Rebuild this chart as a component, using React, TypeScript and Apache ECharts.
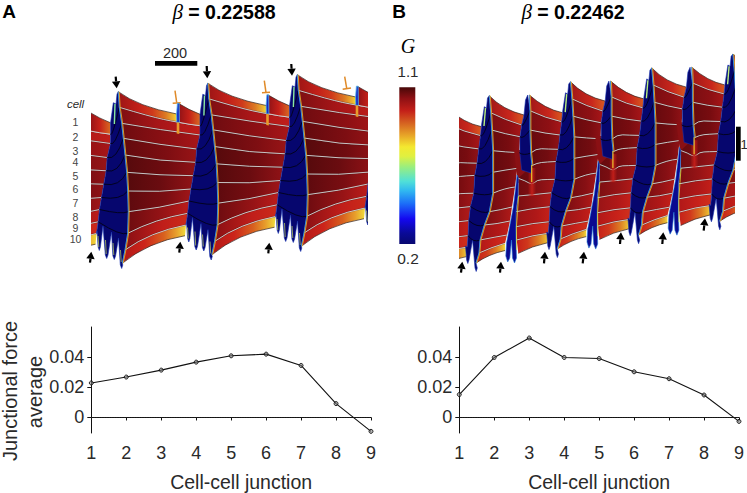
import React, { useEffect, useRef } from "react";
import * as echarts from "echarts";

type Pt = number[];

// ---------- line panels ----------
const junctions = ["1", "2", "3", "4", "5", "6", "7", "8", "9"];
const forceA = [0.0229, 0.0268, 0.0314, 0.0367, 0.0409, 0.042, 0.0345, 0.0092, -0.0092];
const forceB = [0.0152, 0.0398, 0.0527, 0.0398, 0.0391, 0.0303, 0.0257, 0.0149, -0.0026];
const forceTicks = [0, 0.02, 0.04];

// ---------- surface panels in axis units ----------
const originsA: Pt[] = [[-89.5, 8.5], [0, 0], [89.5, -8.5], [179, -17], [268.5, -25.5]];
const originsB: Pt[] = [[-81.2, 13.9], [0, 0], [81.2, -13.9], [162.4, -27.8], [243.6, -41.7]];

const sheetA: Pt[][] = [
  [[118.3, 91.7], [138, 106.5], [176.7, 114]],
  [[119.3, 107.3], [150, 116.5], [176.7, 122.3], [200, 125.7]],
  [[121.7, 123.3], [160, 130], [200, 135]],
  [[123.3, 138.3], [160, 145], [196.7, 149]],
  [[125, 155], [160, 161.5], [195.7, 162.3]],
  [[126.7, 172.3], [160, 175.5], [193.3, 175.7]],
  [[127.7, 191], [160, 192.5], [191, 189]],
  [[128.3, 211.7], [160, 208], [189, 201]],
  [[127.7, 233.3], [155, 219], [187.7, 213.3]],
  [[125, 250], [150, 232], [186, 225]],
  [[122.3, 263.3], [148, 242], [185, 235.7]],
];
const stripUpperA: Pt[] = [[178.3, 103.3], [189, 110], [200, 114.3]];
const stripLowerA: Pt[] = [[178.3, 122.2], [189, 124.5], [200, 125.7]];
const notchBlueA: Pt[] = [[176.6, 114], [177.4, 103.2], [179.2, 103.4], [179.4, 122.4], [176.8, 122.4]];
const notchOrangeA: Pt[] = [[176.7, 122.2], [179.3, 122.6], [179.3, 134], [176.7, 133.6]];
const ridgeFootA: Pt[] = [
  [122.8, 265], [121.7, 268.5], [120.3, 265], [118.5, 238], [115.6, 256], [114.3, 259.5], [112.9, 256], [111.5, 232],
  [108, 255], [106.7, 258.5], [105.3, 255], [103, 226], [100.4, 247], [99.3, 250.5], [98.1, 247], [97, 231],
];
const ridgeShoulderA: Pt[] = [[110.5, 123], [113.3, 102.7], [116, 104], [117, 94]];

const sheet1B: Pt[][] = [
  [[489.3, 95.7], [503, 110], [524, 115]],
  [[490.7, 112.7], [505, 120], [521.7, 125]],
  [[491.7, 130], [505, 134], [520, 136.7]],
  [[492.7, 150.7], [505, 152], [519.3, 152.7]],
  [[492.7, 172.3], [505, 170], [517.3, 168.3]],
  [[492.7, 193.3], [505, 188], [515, 187]],
  [[489.3, 211.7], [500, 210], [512, 207]],
  [[484.3, 225], [497, 224], [510, 221]],
  [[480, 240], [495, 237], [507, 235]],
  [[479, 253], [492, 247], [505, 243.3]],
  [[476, 263], [489, 254], [505, 250.5]],
];
const sheet2B: Pt[][] = [
  [[529.3, 95], [545, 109], [562.3, 112.7]],
  [[530, 110.7], [545, 118], [561.7, 121.7]],
  [[530, 130], [545, 133.5], [560, 135]],
  [[530.7, 153], [536, 148.5], [547, 149], [558.3, 149.3]],
  [[532, 165.5], [537, 163], [546, 162], [556, 161.5]],
  [[518.3, 178.3], [526, 181], [532, 185], [537, 180], [546, 179.5], [555, 179.3]],
  [[518.3, 196], [535, 194.5], [551.7, 192.7]],
  [[516, 211.7], [533, 208], [550, 206.7]],
  [[516, 226.7], [533, 223], [549.3, 221.7]],
  [[516.7, 240], [533, 235], [548.3, 233.3]],
  [[518.3, 253.3], [532, 246], [547.7, 242.7]],
];
const ridgeFootB: Pt[] = [
  [477.3, 268], [476.2, 271.5], [475, 268], [472.6, 240], [469, 260], [467.8, 263.5], [466.6, 260], [465.5, 246],
];
const ridgeShoulderB: Pt[] = [[481.5, 125], [484.3, 106.7], [486.5, 108], [487.5, 98]];
const wedgeB: Pt[] = [
  [527.7, 95], [530, 110.7], [530, 130], [530.7, 153], [531.5, 165], [531, 173], [521.7, 170],
  [520, 154], [520, 137], [521.7, 125], [524, 115], [525.5, 100],
];
const lowerStripB: Pt[] = [
  [517, 175], [518.3, 178], [518, 196], [516, 212], [516, 227], [516, 240], [516.5, 258], [514.5, 263],
  [512.5, 258], [511.5, 240], [509.8, 258], [507.7, 262], [505.8, 256], [506.5, 243], [509, 230], [513.3, 207], [516, 185],
];
const notchBackingB: Pt[] = [[514, 150], [532, 150], [537, 182], [518, 183]];
const notchGlowB: Pt[] = [[528, 168], [536, 168], [536, 196], [528, 196]];

const colorbarStops: [number, string][] = [
  [0, "#080870"], [0.07, "#0a0a98"], [0.16, "#1408f0"], [0.26, "#1c70f8"], [0.34, "#30b8f0"], [0.4, "#50e0d8"],
  [0.49, "#98ee80"], [0.56, "#e0f040"], [0.62, "#f4e830"], [0.69, "#e8a828"], [0.76, "#d86c22"], [0.85, "#c42019"],
  [0.93, "#8e1014"], [1, "#480808"],
];

const bandsA: [number, string][][] = [
  [[0, "#9c1616"], [0.25, "#c22019"], [0.42, "#cf3a1c"], [0.58, "#dc7a24"], [0.68, "#eeb830"], [0.72, "#f2e040"], [1, "#f2e040"]],
  [[0, "#7e0f12"], [0.5, "#a81618"], [1, "#c01e1a"]],
  [[0, "#6e0c10"], [0.6, "#8e1014"], [1, "#a81618"]],
  [[0, "#620a0e"], [0.6, "#7e0e12"], [1, "#981416"]],
  [[0, "#560a0c"], [0.6, "#700c10"], [1, "#901216"]],
  [[0, "#560a0c"], [0.5, "#6a0c10"], [1, "#901216"]],
  [[0, "#5e0a0e"], [0.6, "#7a0e12"], [1, "#a01618"]],
  [[0, "#6e0c10"], [0.6, "#981416"], [1, "#bc1c1a"]],
  [[0, "#8a1014"], [0.6, "#c01e1a"], [1, "#cc2a1a"]],
  [[0, "#b01818"], [0.35, "#cc241a"], [0.65, "#d8601f"], [0.85, "#e8a02c"], [1, "#f0dc3c"]],
];
const stripColorsA: [number, string][] = [[0, "#8e1216"], [0.5, "#c42019"], [1, "#d86a22"]];
const bandsB: [number, string][][] = [
  [[0, "#a01818"], [0.6, "#c8261c"], [1, "#d85a20"]],
  [[0, "#7a0e12"], [0.6, "#8e1014"], [1, "#a81618"]],
  [[0, "#660a0e"], [0.6, "#780c10"], [1, "#901216"]],
  [[0, "#620a0e"], [0.6, "#720c10"], [1, "#8a1014"]],
  [[0, "#660a0e"], [0.6, "#780c10"], [1, "#901216"]],
  [[0, "#700c10"], [0.6, "#881014"], [1, "#a01618"]],
  [[0, "#7a0e12"], [0.6, "#981416"], [1, "#b01a18"]],
  [[0, "#981416"], [0.6, "#b01818"], [1, "#c42019"]],
  [[0, "#b01818"], [0.6, "#c8221a"], [1, "#d0301c"]],
  [[0, "#c42019"], [0.35, "#d0381c"], [0.7, "#dc7c24"], [0.9, "#e8b030"], [1, "#f0dc3c"]],
];

const cellLabels = ["1", "2", "3", "4", "5", "6", "7", "8", "9", "10"];
const cellLabelY = [121.7, 136.7, 150.7, 162, 175.7, 189, 203.3, 216.7, 228, 239.3];

const upArrows: number[][] = [
  [90, 262.7, 91.3, 251.7], [179.3, 252.7, 180.3, 241.7], [268.3, 253.3, 269.3, 242.7],
  [461, 272.7, 462.3, 261.7], [500, 272.7, 501, 261.7], [544, 263.3, 545, 251.7], [582.7, 263.3, 584, 251.7],
  [620, 244, 621, 232.3], [662.3, 244, 663.3, 232.3], [703.7, 230.7, 705, 218.3],
];
const downArrows: number[][] = [
  [115.7, 76.7, 116.7, 88.3], [206.7, 66, 207.3, 78.3], [291.3, 64, 292, 75.7],
];
const tBars: number[][] = [
  [175, 90.7, 176.7, 102.7, 172.7, 103.3, 180.7, 102.7],
  [264.3, 80.7, 266, 92.7, 262, 92.7, 270, 92.3],
  [344.7, 76.7, 346.7, 88.3, 342.7, 89.3, 351, 88],
];

const SANS = '"Liberation Sans", Arial, sans-serif';
const SERIF = '"Liberation Serif", "DejaVu Serif", serif';
const TEXT = "#2a2a2a";
const RIDGE = "#06066e";
const RIDGE_EDGE = "#1430b0";

type Item = { path: (api: any) => string; style: any };

const shift = (pts: Pt[], o: Pt) => pts.map((p) => [p[0] + o[0], p[1] + o[1]]);

const smooth = (pts: Pt[], cmd: string, api: any) => {
  const c = pts.map((p) => api.coord(p));
  let s = `${cmd}${c[0][0]} ${c[0][1]}`;
  if (c.length === 2) return s + `L${c[1][0]} ${c[1][1]}`;
  for (let i = 1; i < c.length - 1; i++) {
    const end = i === c.length - 2 ? c[i + 1] : [(c[i][0] + c[i + 1][0]) / 2, (c[i][1] + c[i + 1][1]) / 2];
    s += `Q${c[i][0]} ${c[i][1]} ${end[0]} ${end[1]}`;
  }
  return s;
};
const straight = (pts: Pt[], close: boolean, api: any) =>
  pts.map((p, i) => {
    const c = api.coord(p);
    return `${i ? "L" : "M"}${c[0]} ${c[1]}`;
  }).join("") + (close ? "Z" : "");

const grad = (stops: [number, string][]) =>
  new echarts.graphic.LinearGradient(0, 0, 1, 0, stops.map(([offset, color]) => ({ offset, color })));

const polyItem = (pts: Pt[], style: any): Item => ({ path: (api) => straight(pts, true, api), style });
const lineItem = (pts: Pt[], style: any): Item => ({ path: (api) => smooth(pts, "M", api), style: { fill: "none", ...style } });
const rawLine = (pts: Pt[], style: any): Item => ({ path: (api) => straight(pts, false, api), style: { fill: "none", ...style } });

const addSheet = (out: Item[], lines: Pt[][], colors: [number, string][][]) => {
  for (let b = 0; b < 10; b++) {
    const upper = lines[b];
    const lower = lines[b + 1];
    out.push({
      path: (api) => smooth(upper, "M", api) + smooth([...lower].reverse(), "L", api) + "Z",
      style: { fill: grad(colors[b]) },
    });
  }
  lines.forEach((l, i) => {
    if (i === 0 || i === 10) out.push(lineItem(l, { stroke: "#30201c", lineWidth: 0.7 }));
    else {
      out.push(lineItem(l, { stroke: "#3a1a1a", lineWidth: 1.7, opacity: 0.45 }));
      out.push(lineItem(l, { stroke: "#d4d4d4", lineWidth: 0.9 }));
    }
  });
};

const addEdge = (out: Item[], pts: Pt[]) => {
  out.push(rawLine(pts, { stroke: "#2f8fe0", lineWidth: 1 }));
  out.push(rawLine(shift(pts, [0.9, 0]), { stroke: "#e0a82c", lineWidth: 0.9 }));
};

const addBlackLines = (out: Item[], rights: Pt[], lefts: Pt[], from: number, to: number) => {
  for (let i = from; i <= to; i++) {
    const r = rights[i];
    const l = lefts[i];
    out.push(lineItem([l, [r[0] - 7, Math.max(l[1], r[1]) + 3], r], { stroke: "#020220", lineWidth: 1 }));
  }
};

const first = (lines: Pt[][]) => lines.map((l) => l[0]);
const last = (lines: Pt[][]) => lines.map((l) => l[l.length - 1]);

function buildA(): Item[] {
  const out: Item[] = [];
  const prevO = originsA[0];
  originsA.forEach((o) => {
    const L = shift(first(sheetA), o);
    const R = shift(shift(last(sheetA), prevO), o);
    const outline = [
      ...L,
      ...shift(ridgeFootA, o),
      ...R.slice(1, 10).reverse(),
      ...shift(ridgeShoulderA, o),
    ];
    out.push(polyItem(outline, { fill: RIDGE, stroke: RIDGE_EDGE, lineWidth: 0.6 }));
    addBlackLines(out, L, R, 1, 8);
    addSheet(out, sheetA.map((l) => shift(l, o)), bandsA);
    const up = shift(stripUpperA, o);
    const low = shift(stripLowerA, o);
    out.push({
      path: (api) => smooth(up, "M", api) + smooth([...low].reverse(), "L", api) + "Z",
      style: { fill: grad(stripColorsA) },
    });
    out.push(lineItem(up, { stroke: "#30201c", lineWidth: 0.7 }));
    out.push(lineItem(low, { stroke: "#d4d4d4", lineWidth: 0.9 }));
    out.push(polyItem(shift(notchBlueA, o), { fill: "#1428c8", stroke: "#4ab4e8", lineWidth: 0.8 }));
    out.push(polyItem(shift(notchOrangeA, o), { fill: "#e89a2a" }));
    addEdge(out, L);
    out.push(rawLine(shift([[115, 104], [114.4, 124]], o), { stroke: "#8ae8a0", lineWidth: 1.4 }));
    [[121.2, 262, 120.5, 250], [113.8, 255, 113, 243], [106.2, 254, 105.5, 240], [98.8, 247, 98, 236]].forEach((f) =>
      out.push(rawLine(shift([[f[0], f[1]], [f[2], f[3]]], o), { stroke: "#c8e060", lineWidth: 0.7 })),
    );
  });
  return out;
}

function buildB(): Item[] {
  const out: Item[] = [];
  const prevO = originsB[0];
  originsB.forEach((o) => {
    const L = shift(first(sheet1B), o);
    const R = shift(shift(last(sheet2B), prevO), o);
    const outline = [
      ...L,
      ...shift(ridgeFootB, o),
      ...R.slice(1, 10).reverse(),
      ...shift(ridgeShoulderB, o),
    ];
    out.push(polyItem(outline, { fill: RIDGE, stroke: RIDGE_EDGE, lineWidth: 0.6 }));
    addBlackLines(out, L, R, 1, 8);
    addSheet(out, sheet1B.map((l) => shift(l, o)), bandsB);
    addEdge(out, L);
    out.push(rawLine(shift([[485.5, 108], [484, 126]], o), { stroke: "#b8f080", lineWidth: 1.4 }));
    out.push(polyItem(shift(notchBackingB, o), { fill: "#8a1014" }));
    addSheet(out, sheet2B.map((l) => shift(l, o)), bandsB);
    out.push({
      path: (api) => straight(shift(notchGlowB, o), true, api),
      style: {
        fill: new echarts.graphic.LinearGradient(0, 0, 1, 0, [
          { offset: 0, color: "rgba(200,32,26,0)" },
          { offset: 0.5, color: "rgba(200,32,26,0.9)" },
          { offset: 1, color: "rgba(200,32,26,0)" },
        ]),
      },
    });
    out.push(polyItem(shift(wedgeB, o), { fill: RIDGE, stroke: RIDGE_EDGE, lineWidth: 0.6 }));
    addBlackLines(out, shift(first(sheet2B).slice(0, 4), o), shift(last(sheet1B).slice(0, 4), o), 1, 3);
    addEdge(out, shift(first(sheet2B).slice(0, 5), o));
    out.push(rawLine(shift([[531.7, 165], [531.7, 182]], o), { stroke: "#e8d030", lineWidth: 1.1 }));
    out.push(polyItem(shift(lowerStripB, o), { fill: "#0a0a90", stroke: "#2478d8", lineWidth: 0.6 }));
    out.push(rawLine(shift([[518.6, 196], [516.4, 227], [516.6, 250]], o), { stroke: "#d8e040", lineWidth: 0.8 }));
  });
  return out;
}

const arrowGraphic = (a: number[]) => {
  const [x0, y0, x1, y1] = a;
  const len = Math.hypot(x1 - x0, y1 - y0);
  const ux = (x1 - x0) / len;
  const uy = (y1 - y0) / len;
  const bx = x1 - ux * 7;
  const by = y1 - uy * 7;
  return [
    { type: "line", shape: { x1: x0, y1: y0, x2: bx, y2: by }, style: { stroke: "#000", lineWidth: 2.2 } },
    {
      type: "polygon",
      shape: { points: [[x1, y1], [bx - uy * 4.2, by + ux * 4.2], [bx + uy * 4.2, by - ux * 4.2]] },
      style: { fill: "#000" },
    },
  ];
};

const txt = (text: string, x: number, y: number, fontSize: number, extra: any = {}) => ({
  type: "text",
  x,
  y,
  style: { text, fontSize, fontFamily: SANS, fill: TEXT, align: "center", verticalAlign: "middle", ...extra },
});

const title = (x: number, value: string) => ({
  type: "text",
  x,
  y: 12,
  style: {
    text: `{b|β}{n| = ${value}}`,
    align: "center",
    verticalAlign: "middle",
    rich: {
      b: { fontFamily: SERIF, fontStyle: "italic", fontSize: 21, fill: "#000" },
      n: { fontFamily: SANS, fontWeight: "bold", fontSize: 19.5, fill: "#000" },
    },
  },
});

const lineSeries = (data: number[], idx: number) => ({
  type: "line",
  xAxisIndex: idx,
  yAxisIndex: idx,
  data,
  symbol: "circle",
  symbolSize: 4,
  lineStyle: { color: "#111", width: 1.1 },
  itemStyle: { color: "rgba(130,130,130,0.55)", borderColor: "#111", borderWidth: 0.9 },
  markLine: {
    silent: true,
    symbol: "none",
    label: { show: false },
    lineStyle: { color: "#222", type: [1, 1.5], width: 1 },
    data: [{ yAxis: 0 }],
  },
  z: 3,
});

export default function App() {
  const ref = useRef<HTMLDivElement>(null);
  useEffect(() => {
    const chart = echarts.init(ref.current!, undefined, { renderer: "svg" });
    const itemsA = buildA();
    const itemsB = buildB();

    const hiddenX = (min: number, max: number, gridIndex: number) => ({ type: "value", gridIndex, min, max, show: false });
    const hiddenY = (min: number, max: number, gridIndex: number) => ({ type: "value", gridIndex, min, max, inverse: true, show: false });

    const catAxis = (gridIndex: number, pad: number) => ({
      type: "category",
      gridIndex,
      data: junctions,
      boundaryGap: false,
      axisLine: { lineStyle: { color: "#111", width: 1 } },
      axisTick: { length: 3, lineStyle: { color: "#111" }, alignWithLabel: true },
      axisLabel: { color: TEXT, fontFamily: SANS, fontSize: 18, margin: 11, interval: 0 },
      name: "Cell-cell junction",
      nameLocation: "middle",
      nameGap: 39,
      nameTextStyle: { color: TEXT, fontFamily: SANS, fontSize: 19.5, padding: [0, 0, 0, pad] },
      splitLine: { show: false },
    });
    const valAxis = (gridIndex: number) => ({
      type: "value",
      gridIndex,
      min: -0.0103,
      max: 0.06,
      axisLine: { show: true, onZero: false, lineStyle: { color: "#111", width: 1 } },
      axisTick: { show: true, length: 4, lineStyle: { color: "#111" }, customValues: forceTicks },
      axisLabel: {
        color: TEXT,
        fontFamily: SANS,
        fontSize: 18,
        margin: 7,
        customValues: forceTicks,
        formatter: (v: number) => (v === 0 ? "0" : String(v)),
      },
      splitLine: { show: false },
    });

    const surfaceSeries = (items: Item[], idx: number) => ({
      type: "custom",
      xAxisIndex: idx,
      yAxisIndex: idx,
      clip: true,
      silent: true,
      data: items.map((_, i) => [i]),
      encode: { x: [], y: [] },
      renderItem: (params: any, api: any) => {
        const it = items[params.dataIndex];
        return { type: "path", shape: { pathData: it.path(api) }, style: it.style };
      },
    });

    const graphics: any[] = [
      txt("A", 9, 11, 19, { fontWeight: "bold", fill: "#000" }),
      txt("B", 399, 11, 19, { fontWeight: "bold", fill: "#000" }),
      title(224, "0.22588"),
      title(573, "0.22462"),
      { type: "rect", shape: { x: 155, y: 61, width: 42.3, height: 4.7 }, style: { fill: "#000" } },
      txt("200", 175, 53, 14.5),
      txt("cell", 75.5, 104, 11.5, { fontStyle: "italic" }),
      ...cellLabels.map((c, i) => txt(c, 75.5, cellLabelY[i], 10.5, { fill: "#444" })),
      txt("G", 408, 46, 20, { fontFamily: SERIF, fontStyle: "italic", fill: "#000" }),
      txt("1.1", 408, 71.5, 15),
      txt("0.2", 408, 258, 15.5),
      {
        type: "rect",
        shape: { x: 399.3, y: 87.3, width: 16, height: 156.7 },
        style: {
          fill: new echarts.graphic.LinearGradient(0, 1, 0, 0, colorbarStops.map(([offset, color]) => ({ offset, color }))),
        },
      },
      { type: "rect", shape: { x: 736, y: 126.7, width: 4.7, height: 34 }, style: { fill: "#000" } },
      txt("1", 744, 144, 13),
      ...upArrows.flatMap(arrowGraphic),
      ...downArrows.flatMap(arrowGraphic),
      ...tBars.flatMap((t) => [
        { type: "line", shape: { x1: t[0], y1: t[1], x2: t[2], y2: t[3] }, style: { stroke: "#e08a28", lineWidth: 1.5 } },
        { type: "line", shape: { x1: t[4], y1: t[5], x2: t[6], y2: t[7] }, style: { stroke: "#e08a28", lineWidth: 1.5 } },
      ]),
      {
        type: "text",
        x: 10,
        y: 391,
        rotation: Math.PI / 2,
        style: { text: "Junctional force", fontSize: 20, fontFamily: SANS, fill: TEXT, align: "center", verticalAlign: "middle" },
      },
      {
        type: "text",
        x: 35,
        y: 392,
        rotation: Math.PI / 2,
        style: { text: "average", fontSize: 20, fontFamily: SANS, fill: TEXT, align: "center", verticalAlign: "middle" },
      },
    ];

    chart.setOption({
      animation: false,
      backgroundColor: "#fff",
      grid: [
        { left: 91.3, top: 50, width: 275.4, height: 230 },
        { left: 459, top: 40, width: 276, height: 240 },
        { left: 91.3, top: 327, width: 279.7, height: 106.3 },
        { left: 459.3, top: 327, width: 279.7, height: 106.3 },
      ],
      xAxis: [hiddenX(91.3, 366.7, 0), hiddenX(459, 735, 1), catAxis(2, 20), catAxis(3, 0)],
      yAxis: [hiddenY(50, 280, 0), hiddenY(40, 280, 1), valAxis(2), valAxis(3)],
      series: [surfaceSeries(itemsA, 0), surfaceSeries(itemsB, 1), lineSeries(forceA, 2), lineSeries(forceB, 3)],
      graphic: { elements: graphics },
    });
    return () => chart.dispose();
  }, []);
  return <div ref={ref} style={{ position: "absolute", left: 0, top: 0, width: 747, height: 493 }} />;
}
